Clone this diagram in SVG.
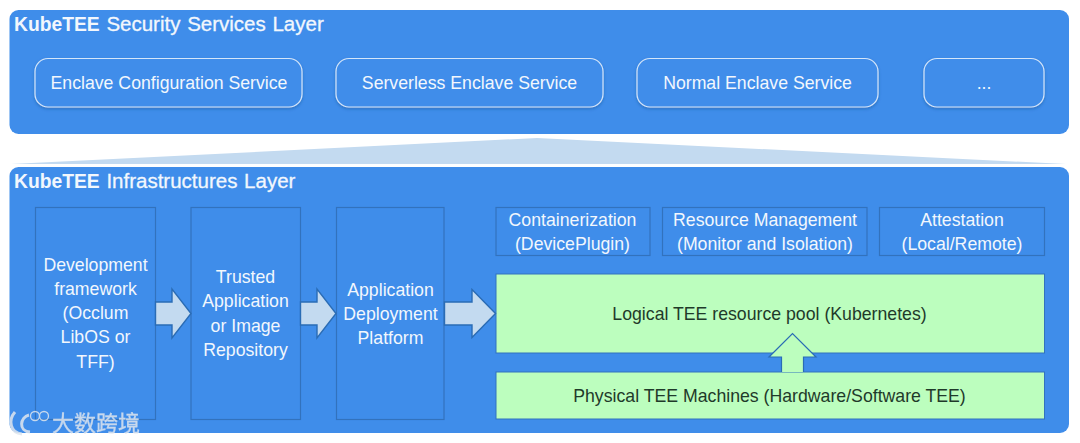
<svg xmlns="http://www.w3.org/2000/svg" width="1080" height="443" viewBox="0 0 1080 443">
<style>
text{font-family:"Liberation Sans","Noto Sans CJK SC",sans-serif;font-size:17.700px;fill:#f2f7fd;text-anchor:middle}
.title{font-size:20.500px;text-anchor:start;stroke:#f2f7fd;stroke-width:.3;word-spacing:1px}
.b{font-weight:bold;font-size:19.300px;stroke:none}
.dark{fill:#1f3a2a}
.layer{fill:#3f8dea}
.svc{fill:#3f8dea;stroke:#d5e6fa;stroke-width:1.2;filter:url(#sh)}
.box{fill:none;stroke:#3272bd;stroke-width:1.2}
.green{fill:#bcfebe;stroke:#3272bd;stroke-width:1}
.arrow{fill:#c3daf0;stroke:#2a6cb5;stroke-width:1.4;stroke-linejoin:miter}
.wm{fill:none;stroke:#dfe6ee}
</style>
<defs><filter id="sh" x="-5%" y="-10%" width="110%" height="125%"><feDropShadow dx="0" dy="1.5" stdDeviation="1.5" flood-color="#1d4f8f" flood-opacity=".45"/></filter></defs>
<rect width="1080" height="443" fill="#fff"/>
<path d="M11 164 L537 138 L1066 164Z" fill="#c3daf0"/>
<g id="security-layer">
<rect class="layer" x="9.500" y="10" width="1059.500" height="124" rx="9"/>
<text class="title" x="14" y="30.500"><tspan class="b">KubeTEE</tspan> Security Services Layer</text>
</g>
<g id="enclave-configuration"><rect class="svc" x="35" y="58.500" width="267" height="48.500" rx="13"/><text x="169" y="89">Enclave Configuration Service</text></g>
<g id="serverless-enclave"><rect class="svc" x="336" y="58.500" width="267" height="48.500" rx="13"/><text x="469.500" y="89">Serverless Enclave Service</text></g>
<g id="normal-enclave"><rect class="svc" x="637" y="58.500" width="241" height="48.500" rx="13"/><text x="757.500" y="89">Normal Enclave Service</text></g>
<g id="more-services"><rect class="svc" x="924" y="58.500" width="120" height="48.500" rx="13"/><text x="984" y="89">...</text></g>
<g id="infrastructure-layer">
<rect class="layer" x="9.500" y="167" width="1059.500" height="266" rx="9"/>
<text class="title" x="14" y="187.500"><tspan class="b">KubeTEE</tspan> Infrastructures Layer</text>
</g>
<g id="development-framework"><rect class="box" x="35.500" y="207.500" width="120" height="212"/>
<text x="95.500" y="270.500">Development</text><text x="95.500" y="295">framework</text><text x="95.500" y="318.500">(Occlum</text><text x="95.500" y="343">LibOS or</text><text x="95.500" y="367.500">TFF)</text></g>
<g id="application-repository"><rect class="box" x="191" y="207.500" width="109.500" height="212"/>
<text x="245.500" y="282.500">Trusted</text><text x="245.500" y="307">Application</text><text x="245.500" y="331.500">or Image</text><text x="245.500" y="355.500">Repository</text></g>
<g id="deployment-platform"><rect class="box" x="336.500" y="207.500" width="107.500" height="212"/>
<text x="390.500" y="295.500">Application</text><text x="390.500" y="319.500">Deployment</text><text x="390.500" y="343.500">Platform</text></g>
<g id="containerization"><rect class="box" x="496" y="207.500" width="154" height="48"/>
<text x="572.500" y="225.500">Containerization</text><text x="572.500" y="250">(DevicePlugin)</text></g>
<g id="resource-management"><rect class="box" x="662.500" y="207.500" width="204.500" height="48"/>
<text x="765" y="225.500">Resource Management</text><text x="765" y="250">(Monitor and Isolation)</text></g>
<g id="attestation"><rect class="box" x="879.500" y="207.500" width="165" height="48"/>
<text x="962" y="225.500">Attestation</text><text x="962" y="250">(Local/Remote)</text></g>
<g id="logical-pool"><rect class="green" x="496" y="274" width="548.500" height="79"/><text class="dark" x="769.500" y="319.500">Logical TEE resource pool (Kubernetes)</text></g>
<g id="physical-machines"><rect class="green" x="496" y="372" width="548.500" height="47"/><text class="dark" x="769.500" y="401.500">Physical TEE Machines (Hardware/Software TEE)</text></g>
<g id="connectors">
<path class="arrow" d="M155.500 302H172V289L191 313.500L172 338V325H155.500Z"/>
<path class="arrow" d="M300.500 302H317V289L336 313.500L317 338V325H300.500Z"/>
<path class="arrow" d="M444.500 302H472V289.500L495.500 313.500L472 337.500V325H444.500Z"/>
<path d="M781.500 372V357H769L792.500 333.500L816 357H803.500V372" fill="#bcfebe" stroke="#2a6cb5" stroke-width="1.2"/>
</g>
<g id="watermark" opacity=".85">
<path class="wm" stroke-width="3" d="M15 412C8 420 10 433 22 434M29 415C20 417 18 431 30 432"/>
<circle class="wm" stroke-width="1.300" cx="35" cy="416" r="4.500"/><circle class="wm" stroke-width="1.300" cx="44" cy="416" r="4.500"/>
<text x="96" y="431" style="font-size:22px;fill:#dfe6ee;stroke:#dfe6ee;stroke-width:.3">大数跨境</text>
</g>
</svg>
